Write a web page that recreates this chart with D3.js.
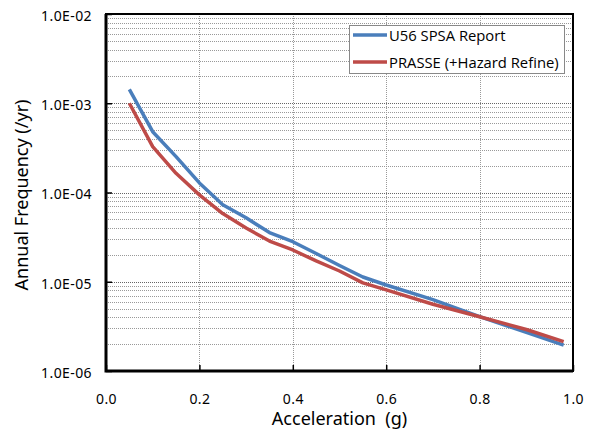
<!DOCTYPE html>
<html>
<head>
<meta charset="utf-8">
<script src="https://cdn.jsdelivr.net/npm/d3@7"></script>
<style>
  body { margin: 0; background: #fff; }
  svg { display: block; }
</style>
</head>
<body>
<div id="chart"></div>
<script>
// acceleration (g) and annual exceedance frequency (/yr)
var accel  = [0.05, 0.10, 0.15, 0.20, 0.25, 0.30, 0.35, 0.40, 0.45, 0.50, 0.55, 0.60, 0.70, 0.80, 0.90, 0.98];
var u56    = [1.43e-3, 4.8e-4, 2.52e-4, 1.28e-4, 7.3e-5, 5.2e-5, 3.56e-5, 2.81e-5, 2.07e-5, 1.52e-5, 1.13e-5, 9.2e-6, 6.3e-6, 4.06e-6, 2.71e-6, 1.95e-6];
var prasse = [1.0e-3, 3.26e-4, 1.64e-4, 9.4e-5, 5.8e-5, 4.0e-5, 2.86e-5, 2.27e-5, 1.71e-5, 1.32e-5, 9.7e-6, 8.1e-6, 5.6e-6, 4.06e-6, 2.92e-6, 2.13e-6];
var seriesNames = ["U56 SPSA Report", "PRASSE (+Hazard Refine)"];
var seriesColors = ["#4a7ebb", "#be4b48"];

var xTicks = [0, 0.2, 0.4, 0.6, 0.8, 1.0];
var xTickLabels = ["0.0", "0.2", "0.4", "0.6", "0.8", "1.0"];
var yTicks = [1e-6, 1e-5, 1e-4, 1e-3, 1e-2];
var yTickLabels = ["1.0E-06", "1.0E-05", "1.0E-04", "1.0E-03", "1.0E-02"];

var width = 592, height = 430,
    margin = { top: 14, right: 19, bottom: 59, left: 106 },
    w = width - margin.left - margin.right,
    h = height - margin.top - margin.bottom;

var x = d3.scaleLinear().domain([0, 1]).range([0, w]);
var y = d3.scaleLog().domain([1e-6, 1e-2]).range([h, 0]);

var svg = d3.select("#chart").append("svg")
    .attr("width", width)
    .attr("height", height);

var g = svg.append("g")
    .attr("transform", "translate(" + margin.left + "," + margin.top + ")");

// minor log gridlines
var minor = y.ticks().filter(function (d) { return yTicks.indexOf(d) < 0; });
g.append("g").selectAll("line")
    .data(minor)
    .enter().append("line")
    .attr("x1", 0).attr("x2", w)
    .attr("y1", function (d) { return Math.round(y(d)) + 0.5; })
    .attr("y2", function (d) { return Math.round(y(d)) + 0.5; })
    .attr("stroke", "#999")
    .attr("stroke-dasharray", "1,1");

// major horizontal gridlines
g.append("g").selectAll("line")
    .data(yTicks.slice(1, -1))
    .enter().append("line")
    .attr("x1", 0).attr("x2", w)
    .attr("y1", function (d) { return Math.round(y(d)) + 0.5; })
    .attr("y2", function (d) { return Math.round(y(d)) + 0.5; })
    .attr("stroke", "#666")
    .attr("stroke-dasharray", "1,1");

// vertical gridlines
g.append("g").selectAll("line")
    .data(xTicks.slice(1, -1))
    .enter().append("line")
    .attr("x1", function (d) { return Math.round(x(d)) + 0.5; })
    .attr("x2", function (d) { return Math.round(x(d)) + 0.5; })
    .attr("y1", 0).attr("y2", h)
    .attr("stroke", "#999")
    .attr("stroke-dasharray", "1,1");

// axes (ticks inside)
var xAxis = d3.axisBottom(x)
    .tickValues(xTicks)
    .tickSize(-6)
    .tickPadding(23)
    .tickFormat(function (d, i) { return xTickLabels[i]; });
var yAxis = d3.axisLeft(y)
    .tickValues(yTicks)
    .tickSize(-6)
    .tickPadding(14)
    .tickFormat(function (d, i) { return yTickLabels[i]; });

var gx = g.append("g")
    .attr("transform", "translate(0," + h + ")")
    .call(xAxis);
var gy = g.append("g").call(yAxis);

[gx, gy].forEach(function (a) {
    a.select(".domain").remove();
    a.selectAll(".tick line").attr("stroke", "#000").attr("stroke-width", 1.5);
    a.selectAll("text")
        .attr("fill", "#000")
        .style("font-family", "'Noto Sans', sans-serif")
        .style("font-size", "14px")
        .style("letter-spacing", "0.4px");
});
gy.selectAll("text").attr("dy", "0.45em");

// data lines
var line = d3.line()
    .x(function (d) { return x(d[0]); })
    .y(function (d) { return y(d[1]); });

[u56, prasse].forEach(function (vals, i) {
    g.append("path")
        .datum(accel.map(function (a, j) { return [a, vals[j]]; }))
        .attr("fill", "none")
        .attr("stroke", seriesColors[i])
        .attr("stroke-width", 3.5)
        .attr("stroke-linejoin", "round")
        .attr("d", line);
});

// plot frame
g.append("rect")
    .attr("x", 0).attr("y", 0)
    .attr("width", w).attr("height", h)
    .attr("fill", "none")
    .attr("stroke", "#000")
    .attr("stroke-width", 2);
g.append("path")
    .attr("d", "M0,0V" + h + "H" + w)
    .attr("fill", "none")
    .attr("stroke", "#000")
    .attr("stroke-width", 3);

// legend
var lg = svg.append("g").attr("transform", "translate(349,25)");
lg.append("rect")
    .attr("x", 0.5).attr("y", 0.5)
    .attr("width", 215).attr("height", 48)
    .attr("fill", "#fff")
    .attr("stroke", "#888");
seriesNames.forEach(function (name, i) {
    var row = lg.append("g").attr("transform", "translate(0," + (10 + i * 27) + ")");
    row.append("line")
        .attr("x1", 4).attr("x2", 38)
        .attr("stroke", seriesColors[i])
        .attr("stroke-width", 3.5);
    row.append("text")
        .attr("x", 40).attr("y", 5.5)
        .style("font-family", "'Open Sans', sans-serif")
        .style("font-size", "14.8px")
        .text(name);
});

// axis titles
svg.append("text")
    .attr("x", margin.left + w / 2)
    .attr("y", 425)
    .attr("text-anchor", "middle")
    .style("font-family", "'Noto Sans', sans-serif")
    .style("font-size", "18px")
    .style("white-space", "pre")
    .text("Acceleration  (g)");

svg.append("text")
    .attr("transform", "translate(28,195) rotate(-90)")
    .attr("text-anchor", "middle")
    .style("font-family", "'Noto Sans', sans-serif")
    .style("font-size", "18px")
    .text("Annual Frequency (/yr)");
</script>
</body>
</html>
